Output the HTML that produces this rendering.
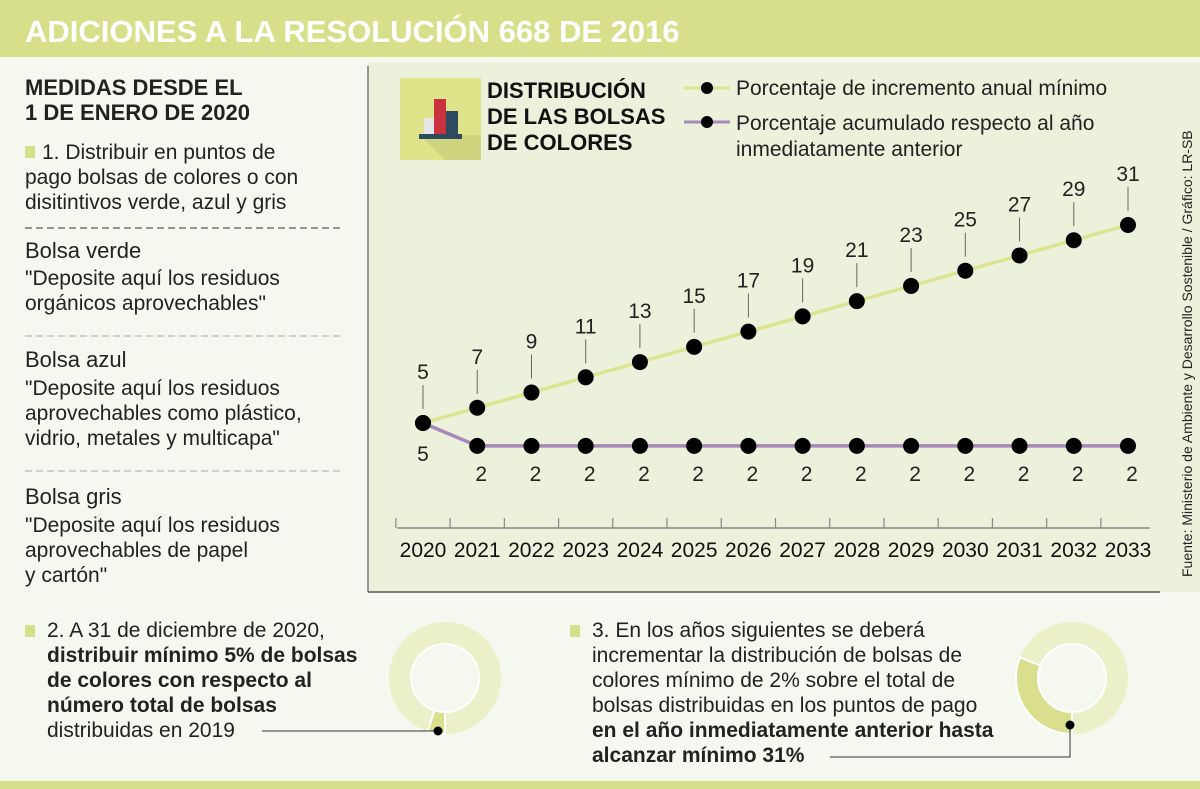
<!DOCTYPE html>
<html><head><meta charset="utf-8"><style>
html,body{margin:0;padding:0;background:#f5f8ee;}
svg{display:block;font-family:"Liberation Sans Narrow","Liberation Sans",sans-serif;}
</style></head><body>
<svg width="1200" height="789" viewBox="0 0 1200 789" xmlns="http://www.w3.org/2000/svg">
<rect x="0" y="0" width="1200" height="789" fill="#f5f8ee"/>
<rect x="0" y="0" width="1200" height="57" fill="#d8df8b"/>
<text x="25" y="42" font-size="31" font-weight="bold" fill="#fff" font-family="Liberation Sans, sans-serif">ADICIONES A LA RESOLUCIÓN 668 DE 2016</text>
<rect x="0" y="781" width="1200" height="8" fill="#d8df8b"/>

<rect x="368" y="62" width="832" height="530" fill="#ecf1dc"/>
<line x1="368" y1="66" x2="368" y2="592" stroke="#777" stroke-width="1.5"/>
<line x1="368" y1="592" x2="1160" y2="592" stroke="#555" stroke-width="1.5"/>

<!-- left column -->
<g fill="#222" font-size="21">
<text x="25" y="95" font-weight="bold" font-size="22">MEDIDAS DESDE EL</text>
<text x="25" y="120" font-weight="bold" font-size="22">1 DE ENERO DE 2020</text>
<rect x="25" y="146" width="10" height="12" fill="#d8df8b"/>
<text x="42" y="159">1. Distribuir en puntos de</text>
<text x="25" y="184">pago bolsas de colores o con</text>
<text x="25" y="209">disitintivos verde, azul y gris</text>
<line x1="25" y1="228" x2="340" y2="228" stroke="#333" stroke-dasharray="7,4"/>
<text x="25" y="258" font-size="22">Bolsa verde</text>
<text x="25" y="285">"Deposite aquí los residuos</text>
<text x="25" y="310">orgánicos aprovechables"</text>
<line x1="25" y1="336" x2="340" y2="336" stroke="#aaa" stroke-dasharray="7,4"/>
<text x="25" y="367" font-size="22">Bolsa azul</text>
<text x="25" y="395">"Deposite aquí los residuos</text>
<text x="25" y="420">aprovechables como plástico,</text>
<text x="25" y="445">vidrio, metales y multicapa"</text>
<line x1="25" y1="471" x2="340" y2="471" stroke="#aaa" stroke-dasharray="7,4"/>
<text x="25" y="504" font-size="22">Bolsa gris</text>
<text x="25" y="532">"Deposite aquí los residuos</text>
<text x="25" y="557">aprovechables de papel</text>
<text x="25" y="582">y cartón"</text>
</g>

<!-- chart header -->
<g>
<rect x="400" y="78" width="81" height="82" fill="#dfe38a"/>
<polygon points="420,135 481,135 481,160 445,160" fill="#cfd47e"/>
<rect x="424" y="118" width="10" height="17" fill="#e6e6e6"/>
<rect x="434" y="99" width="12" height="36" fill="#c8333d"/>
<rect x="446" y="111" width="12" height="24" fill="#2e4a5e"/>
<rect x="419" y="134" width="43" height="5" fill="#2e4a5e"/>
</g>
<g font-size="22" font-weight="bold" fill="#111">
<text x="487" y="98">DISTRIBUCIÓN</text>
<text x="487" y="124">DE LAS BOLSAS</text>
<text x="487" y="150">DE COLORES</text>
</g>
<g font-size="21" fill="#222">
<line x1="684" y1="88" x2="730" y2="88" stroke="#dde38f" stroke-width="3"/>
<circle cx="707" cy="88" r="6" fill="#000"/>
<text x="736" y="95">Porcentaje de incremento anual mínimo</text>
<line x1="684" y1="122" x2="730" y2="122" stroke="#a887b9" stroke-width="3"/>
<circle cx="707" cy="122" r="6" fill="#000"/>
<text x="736" y="130">Porcentaje acumulado respecto al año</text>
<text x="736" y="156">inmediatamente anterior</text>
</g>
<text transform="translate(1192,577) rotate(-90)" font-size="14" fill="#222">Fuente: Ministerio de Ambiente y Desarrollo Sostenible / Gráfico: LR-SB</text>

<g id="chart"></g>

<!-- bottom -->
<g fill="#222" font-size="21">
<rect x="25" y="625" width="10" height="12" fill="#d8df8b"/>
<text x="47" y="637">2. A 31 de diciembre de 2020,</text>
<text x="47" y="662" font-weight="bold">distribuir mínimo 5% de bolsas</text>
<text x="47" y="687" font-weight="bold">de colores con respecto al</text>
<text x="47" y="712" font-weight="bold">número total de bolsas</text>
<text x="47" y="737">distribuidas en 2019</text>
</g>
<g fill="#222" font-size="21">
<rect x="570" y="625" width="10" height="12" fill="#d8df8b"/>
<text x="592" y="637">3. En los años siguientes se deberá</text>
<text x="592" y="662">incrementar la distribución de bolsas de</text>
<text x="592" y="687">colores mínimo de 2% sobre el total de</text>
<text x="592" y="712">bolsas distribuidas en los puntos de pago</text>
<text x="592" y="737" font-weight="bold">en el año inmediatamente anterior hasta</text>
<text x="592" y="762" font-weight="bold">alcanzar mínimo 31%</text>
</g>
<g id="donuts"></g>

<script>
const years=[2020,2021,2022,2023,2024,2025,2026,2027,2028,2029,2030,2031,2032,2033];
const annualMin=[5,7,9,11,13,15,17,19,21,23,25,27,29,31];
const cumulative=[5,2,2,2,2,2,2,2,2,2,2,2,2,2];
const donutShares=[5,31];
const NS="http://www.w3.org/2000/svg";
const g=document.getElementById('chart');
const x0=423,dx=(1128-423)/13;
const xs=i=>x0+i*dx;
const ys=v=>423-(v-5)*(198/26);
function mk(t,a,p){const e=document.createElementNS(NS,t);for(const k in a)e.setAttribute(k,a[k]);(p||g).appendChild(e);return e;}
// axis
let ax=mk('line',{x1:397,y1:528,x2:1150,y2:528,stroke:'#888','stroke-width':1.5});


for(let i=0;i<=14;i++){const tx=xs(i)-dx/2;if(tx>1155)break;const t=mk('line',{x1:tx,y1:518,x2:tx,y2:528,stroke:'#888','stroke-width':1.2});

}
years.forEach((y,i)=>{const t=mk('text',{x:xs(i),y:557,'text-anchor':'middle','font-size':21,fill:'#111'});t.textContent=y;

});
function path(arr,col,name){const d=arr.map((v,i)=>(i?'L':'M')+xs(i)+','+ys(v)).join(' ');
const p=mk('path',{d:d,fill:'none',stroke:col,'stroke-width':3.5});

}
path(cumulative,'#a887b9','cumulative-line');
path(annualMin,'#dde38f','annual-line');
annualMin.forEach((v,i)=>{const y=ys(v);
const l=mk('line',{x1:xs(i),y1:y-38,x2:xs(i),y2:y-14,stroke:'#666','stroke-width':1});


const t=mk('text',{x:xs(i),y:y-44,'text-anchor':'middle','font-size':21,fill:'#222'});t.textContent=v;

});
cumulative.forEach((v,i)=>{const y=ys(v);
const t=mk('text',{x:xs(i)+(i?4:0),y:ys(v)+(i?35:38),'text-anchor':'middle','font-size':21,fill:'#222'});t.textContent=v;

});
cumulative.forEach((v,i)=>{const c=mk('circle',{cx:xs(i),cy:ys(v),r:8,fill:'#000'});

});
annualMin.forEach((v,i)=>{const c=mk('circle',{cx:xs(i),cy:ys(v),r:8,fill:'#000'});

});
// donuts
const dg=document.getElementById('donuts');
const centers=[[445,678],[1072,678]];
function arc(cx,cy,R,r,a0,a1){const p=(a,rr)=>[cx+rr*Math.sin(a),cy-rr*Math.cos(a)];const lg=(a1-a0)>Math.PI?1:0;
const [x1,y1]=p(a0,R),[x2,y2]=p(a1,R),[x3,y3]=p(a1,r),[x4,y4]=p(a0,r);
return `M${x1},${y1} A${R},${R} 0 ${lg} 1 ${x2},${y2} L${x3},${y3} A${r},${r} 0 ${lg} 0 ${x4},${y4}Z`;}
donutShares.forEach((s,i)=>{const [cx,cy]=centers[i];
const b=mk('circle',{cx:cx,cy:cy,r:45,fill:'none',stroke:'#ecf0c8','stroke-width':22},dg);


const a0=Math.PI,a1=Math.PI+s/100*2*Math.PI;
const p=mk('path',{d:arc(cx,cy,56,34,a0,a1),fill:'#d9df8d',stroke:'#fff','stroke-width':2},dg);


const o=mk('circle',{cx:cx,cy:cy,r:34,fill:'none',stroke:'#fff','stroke-width':2},dg);

});
let l1=mk('path',{d:'M262,731 L438,731',stroke:'#333',fill:'none','stroke-width':1},dg);


mk('circle',{cx:438,cy:731,r:4.5,fill:'#000'},dg);
let l2=mk('path',{d:'M830,757 L1070,757 L1070,725',stroke:'#333',fill:'none','stroke-width':1},dg);


mk('circle',{cx:1070,cy:725,r:4.5,fill:'#000'},dg);
</script>
</svg>
</body></html>
